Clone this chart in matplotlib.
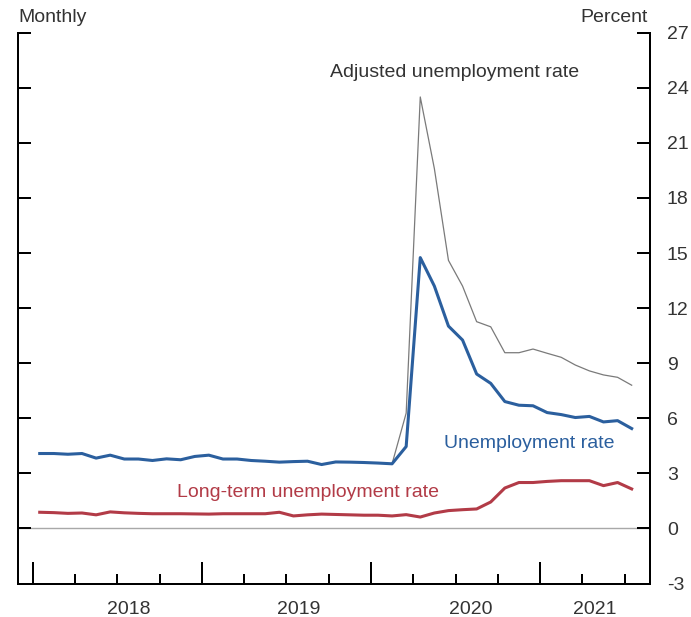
import matplotlib
matplotlib.use("Agg")
import matplotlib.pyplot as plt
import numpy as np

plt.rcParams['font.family'] = ['Liberation Sans', 'DejaVu Sans']
plt.rcParams['axes.unicode_minus'] = False

# Monthly data, Jan 2018 - Jul 2021
unemployment = [4.08, 4.08, 4.04, 4.08, 3.83, 3.99, 3.78, 3.78, 3.70, 3.79, 3.74, 3.92,
                3.99, 3.78, 3.78, 3.70, 3.66, 3.61, 3.64, 3.66, 3.48, 3.62, 3.61, 3.59,
                3.56, 3.52, 4.46, 14.75, 13.2, 11.02, 10.26, 8.41, 7.9, 6.91, 6.71, 6.68,
                6.31, 6.2, 6.04, 6.1, 5.8, 5.87, 5.44]
# Adjusted rate from Feb 2020 onward (coincides with the official rate before)
adjusted = [3.52, 6.28, 23.5, 19.6, 14.6, 13.2, 11.26, 10.98, 9.57, 9.57, 9.77,
            9.54, 9.32, 8.9, 8.58, 8.36, 8.23, 7.8]
long_term = [0.88, 0.86, 0.82, 0.84, 0.74, 0.90, 0.85, 0.82, 0.80, 0.80, 0.80, 0.79,
             0.78, 0.80, 0.80, 0.80, 0.80, 0.88, 0.68, 0.74, 0.78, 0.76, 0.74, 0.72,
             0.72, 0.68, 0.75, 0.62, 0.84, 0.97, 1.02, 1.06, 1.44, 2.2, 2.5, 2.5,
             2.56, 2.6, 2.6, 2.6, 2.33, 2.5, 2.15]
year_labels = ['2018', '2019', '2020', '2021']
year_label_pos = [2018.567, 2019.572, 2020.59, 2021.325]
y_ticks = list(range(-3, 28, 3))

n = len(unemployment)
x = 2018 + (np.arange(n) + 0.5) / 12.0
x_adj = x[n - len(adjusted):]

BLUE = '#2b5f9e'
RED = '#b23b47'
GRAY = '#7a7a7a'
TXT = '#333333'
FS = 14
PX = 0.72  # points per pixel at 100 dpi

fig = plt.figure(figsize=(6.91, 6.17), dpi=100)
ax = fig.add_axes([18.3 / 691, 33.5 / 617, (650 - 18.3) / 691, (583.5 - 32.7) / 617])

ax.axhline(0, color='#a8a8a8', lw=1.0, zorder=1)
ax.plot(x_adj, adjusted, color=GRAY, lw=0.9, zorder=2)
ax.plot(x, unemployment, color=BLUE, lw=2.2, zorder=3)
ax.plot(x, long_term, color=RED, lw=2.2, zorder=3)

ax.set_xlim(2017.915, 2021.65)
ax.set_ylim(-3, 27)

for s in ['left', 'right', 'bottom']:
    ax.spines[s].set_linewidth(2 * PX)
    ax.spines[s].set_color('black')
ax.spines['top'].set_visible(False)

# y ticks: inward on both sides, labels on right
ax.set_yticks(y_ticks)
ax.set_yticklabels([str(v) for v in y_ticks])
ax.tick_params(axis='y', which='major', direction='in', length=13 * PX, width=2 * PX,
               left=True, right=True, labelleft=False, labelright=True,
               labelsize=FS, pad=17 * PX, colors='black')
for lab in ax.get_yticklabels():
    lab.set_color(TXT)

# x ticks: yearly major (tall), quarterly minor
ax.set_xticks([2018, 2019, 2020, 2021])
ax.set_xticks([2018 + q / 4 for q in range(1, 15) if q % 4 != 0], minor=True)
ax.tick_params(axis='x', which='major', direction='in', length=22 * PX, width=2 * PX,
               labelbottom=False)
ax.tick_params(axis='x', which='minor', direction='in', length=10 * PX, width=2 * PX)

for lab, pos in zip(year_labels, year_label_pos):
    ax.text(pos, -0.048, lab, transform=ax.get_xaxis_transform(), ha='center',
            va='center', fontsize=FS, color=TXT, clip_on=False)

fig.text(18 / 691, 1 - 18 / 617, 'Monthly', ha='left', va='center', fontsize=FS,
         color=TXT)
fig.text(648 / 691, 1 - 18 / 617, 'Percent', ha='right', va='center', fontsize=FS,
         color=TXT)

ax.text(2020.497, 24.85, 'Adjusted unemployment rate', ha='center', va='center',
        fontsize=FS, color=TXT)
ax.text(2020.935, 4.65, 'Unemployment rate', ha='center', va='center',
        fontsize=FS, color=BLUE)
ax.text(2019.628, 1.98, 'Long-term unemployment rate', ha='center', va='center',
        fontsize=FS, color=RED)

fig.savefig('out.png', dpi=100)
